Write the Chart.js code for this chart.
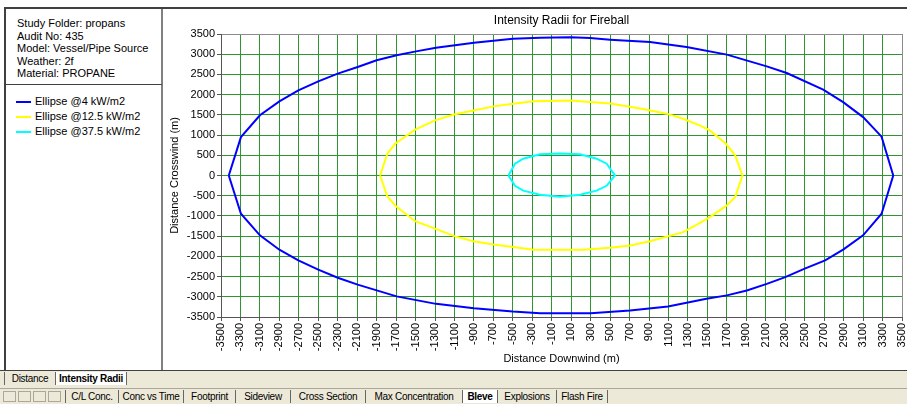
<!DOCTYPE html>
<html>
<head>
<meta charset="utf-8">
<script src="https://cdn.jsdelivr.net/npm/chart.js@4"></script>
<style>
  body { margin: 0; width: 907px; height: 404px; background: #fff; position: relative; overflow: hidden;
         font-family: "Liberation Sans", Arial, sans-serif; }
  #frame { position: absolute; left: 4px; top: 7px; width: 903px; height: 363px;
           border-top: 2px solid #404040; border-left: 2px solid #404040; box-sizing: border-box; }
  #info { position: absolute; left: 6px; top: 9px; width: 157px; height: 76px;
          border-right: 2px solid #808080; border-bottom: 1px solid #404040; box-sizing: border-box;
          font-size: 11px; line-height: 12.6px; padding: 8px 0 0 11px; color: #000; }
  #legendBox { position: absolute; left: 6px; top: 85px; width: 157px; height: 285px;
               border-right: 2px solid #808080; box-sizing: border-box; font-size: 11px; color: #000; }
  .leg { position: absolute; left: 10px; height: 14px; line-height: 14px; }
  .leg span.sw { display: inline-block; width: 15px; height: 2px; vertical-align: middle; margin-right: 4px; }
  #chartBox { position: absolute; left: 164px; top: 10px; width: 743px; height: 360px; }
  #tabs1 { position: absolute; left: 0; top: 370px; width: 907px; height: 18px; background: #ece9d8;
           border-top: 1px solid #404040; box-sizing: border-box; font-size: 10px; }
  #tabs2 { position: absolute; left: 0; top: 388px; width: 907px; height: 16px; background: #ece9d8;
           border-top: 1px solid #aca899; box-sizing: border-box; font-size: 10px; }
  .tab { position: absolute; top: 1px; height: 13px; line-height: 13px; background: #ece9d8; text-align: center;
         border-left: 1px solid #666; white-space: nowrap; letter-spacing: -0.3px; box-sizing: border-box; }
  .tab.act { background: #fff; font-weight: bold; }
  .tab.last { border-right: 1px solid #666; }
  .nav { position: absolute; top: 2px; width: 13px; height: 11px; border: 1px solid #aca899; background: #ece9d8; box-sizing: border-box; }
</style>
</head>
<body>
<div id="frame"></div>
<div id="info"></div>
<div id="legendBox"></div>
<div id="chartBox"><canvas id="radii-chart" width="743" height="360"></canvas></div>
<div id="tabs1"></div>
<div id="tabs2"></div>
<script>
// header text of the study
const infoLines = ["Study Folder: propans", "Audit No: 435", "Model: Vessel/Pipe Source", "Weather: 2f", "Material: PROPANE"];
const chartTitle = "Intensity Radii for Fireball";

// series names and colours
const seriesNames = ["Ellipse @4 kW/m2", "Ellipse @12.5 kW/m2", "Ellipse @37.5 kW/m2"];
const seriesColors = ["#0000ff", "#ffff00", "#00ffff"];

// ellipse @4 kW/m2 (closed loop)
const ellipse4X = [-3420, -3295, -3100, -2900, -2705, -2500, -2300, -2095, -1900, -1695, -1495, -1290, -900, -500, -220, 90, 295, 500, 910, 1285, 1700, 2110, 2315, 2690, 2895, 3100, 3290, 3410,
  3290, 3100, 2895, 2710, 2500, 2300, 2110, 1905, 1700, 1490, 1095, 705, 300, -220, -500, -900, -1290, -1695, -2095, -2300, -2500, -2705, -2900, -3100, -3295, -3420];
const ellipse4Y = [0, 950, 1490, 1835, 2105, 2330, 2520, 2685, 2850, 2975, 3070, 3160, 3285, 3385, 3410, 3420, 3400, 3360, 3300, 3180, 2990, 2700, 2535, 2125, 1815, 1445, 960, 0,
  -945, -1480, -1835, -2100, -2305, -2515, -2680, -2845, -2965, -3050, -3240, -3340, -3405, -3405, -3365, -3285, -3175, -2990, -2700, -2530, -2330, -2100, -1835, -1480, -945, 0];

// ellipse @12.5 kW/m2
const ellipse125X = [-1865, -1790, -1710, -1505, -1300, -1095, -905, -700, -495, -290, 90, 500, 810, 1080, 1250, 1420, 1525, 1690, 1785, 1860,
  1785, 1700, 1525, 1420, 1250, 910, 705, 500, 225, -290, -495, -700, -905, -1095, -1300, -1505, -1710, -1790, -1865];
const ellipse125Y = [0, 540, 785, 1135, 1365, 1515, 1610, 1710, 1775, 1835, 1855, 1780, 1655, 1530, 1405, 1240, 1115, 785, 500, 0,
  -535, -740, -1030, -1180, -1400, -1625, -1730, -1785, -1835, -1835, -1770, -1705, -1625, -1505, -1315, -1130, -740, -520, 0];

// ellipse @37.5 kW/m2
const ellipse375X = [-545, -478, -393, -221, -16, 190, 361, 464, 550, 464, 361, 190, -16, -221, -393, -478, -545];
const ellipse375Y = [0, 292, 416, 523, 545, 523, 416, 292, 0, -255, -375, -475, -525, -475, -375, -255, 0];

// axis ranges and ticks
const xMin = -3500, xMax = 3500, xStep = 200;
const yMin = -3500, yMax = 3500, yStep = 500;

// tab captions: [text, left, width, active]
const topTabs = [["Distance", 4, 51, false], ["Intensity Radii", 55, 72, true]];
const bottomTabs = [["C/L Conc.", 65, 53, false], ["Conc vs Time", 118, 65, false], ["Footprint", 183, 52, false], ["Sideview", 235, 55, false],
  ["Cross Section", 290, 75, false], ["Max Concentration", 365, 97, false], ["Bleve", 462, 35, true], ["Explosions", 497, 59, false], ["Flash Fire", 556, 52, false]];

function toPoints(xs, ys) {
  return xs.map((x, i) => ({ x: x, y: ys[i] }));
}

// fill the left panel
document.getElementById("info").innerHTML = infoLines.join("<br>");
const legendBox = document.getElementById("legendBox");
seriesNames.forEach((name, i) => {
  const d = document.createElement("div");
  d.className = "leg";
  d.style.top = (9 + i * 15) + "px";
  d.innerHTML = '<span class="sw" style="background:' + seriesColors[i] + '"></span>' + name;
  legendBox.appendChild(d);
});

// bottom tab strips
function addTabs(el, list) {
  list.forEach((t, i) => {
    const d = document.createElement("div");
    d.className = "tab" + (t[3] ? " act" : "") + (i === list.length - 1 ? " last" : "");
    d.style.left = t[1] + "px";
    d.style.width = t[2] + "px";
    d.textContent = t[0];
    el.appendChild(d);
  });
}
addTabs(document.getElementById("tabs1"), topTabs);
const tabs2 = document.getElementById("tabs2");
[3, 18, 33, 48].forEach(l => {
  const b = document.createElement("div");
  b.className = "nav";
  b.style.left = l + "px";
  tabs2.appendChild(b);
});
addTabs(tabs2, bottomTabs);

const gridGreen = "#2e962e";
const edgeGray = "#8c8c8c";
const plainNumber = (v) => String(v);

// title centred over the plot area, like the original
const plotTitle = {
  id: "plotTitle",
  afterDraw(chart) {
    const c = chart.ctx;
    const area = chart.chartArea;
    c.save();
    c.fillStyle = "#000";
    c.font = "12px 'Liberation Sans'";
    c.textAlign = "center";
    c.textBaseline = "middle";
    c.fillText(chartTitle, (area.left + area.right) / 2, 11);
    c.restore();
  },
};

const ctx = document.getElementById("radii-chart");
new Chart(ctx, {
  type: "scatter",
  data: {
    datasets: [
      { label: seriesNames[0], data: toPoints(ellipse4X, ellipse4Y), borderColor: seriesColors[0] },
      { label: seriesNames[1], data: toPoints(ellipse125X, ellipse125Y), borderColor: seriesColors[1] },
      { label: seriesNames[2], data: toPoints(ellipse375X, ellipse375Y), borderColor: seriesColors[2] },
    ].map(ds => Object.assign(ds, { showLine: true, borderWidth: 2, pointRadius: 0, tension: 0, fill: false })),
  },
  plugins: [plotTitle],
  options: {
    responsive: false,
    animation: false,
    devicePixelRatio: 1,
    layout: { padding: { left: 0, right: 5, top: 24, bottom: 0 } },
    plugins: {
      legend: { display: false },
      tooltip: { enabled: false },
      title: { display: false },
    },
    scales: {
      x: {
        type: "linear",
        min: xMin,
        max: xMax,
        afterFit: (scale) => { scale.height = 53; scale.paddingLeft = 0; scale.paddingRight = 0; },
        ticks: {
          stepSize: xStep,
          minRotation: 90,
          maxRotation: 90,
          padding: 2,
          color: "#000",
          font: { family: "Liberation Sans", size: 11 },
          callback: plainNumber,
        },
        grid: {
          color: (c) => (c.tick && c.tick.value === xMax ? edgeGray : gridGreen),
          tickColor: "#555",
          tickLength: 4,
        },
        border: { color: "#555" },
        title: {
          display: true,
          text: "Distance Downwind (m)",
          color: "#000",
          font: { family: "Liberation Sans", size: 11 },
          padding: { top: 0, bottom: 4 },
        },
      },
      y: {
        type: "linear",
        min: yMin,
        max: yMax,
        afterFit: (scale) => { scale.width = 57; scale.paddingTop = 0; scale.paddingBottom = 0; },
        ticks: {
          stepSize: yStep,
          padding: 2,
          color: "#000",
          font: { family: "Liberation Sans", size: 11 },
          callback: plainNumber,
        },
        grid: {
          color: (c) => (c.tick && c.tick.value === yMax ? edgeGray : gridGreen),
          tickColor: "#555",
          tickLength: 4,
        },
        border: { color: "#555" },
        title: {
          display: true,
          text: "Distance Crosswind (m)",
          color: "#000",
          font: { family: "Liberation Sans", size: 11 },
          padding: { top: 4, bottom: 0 },
        },
      },
    },
  },
});
</script>
</body>
</html>
